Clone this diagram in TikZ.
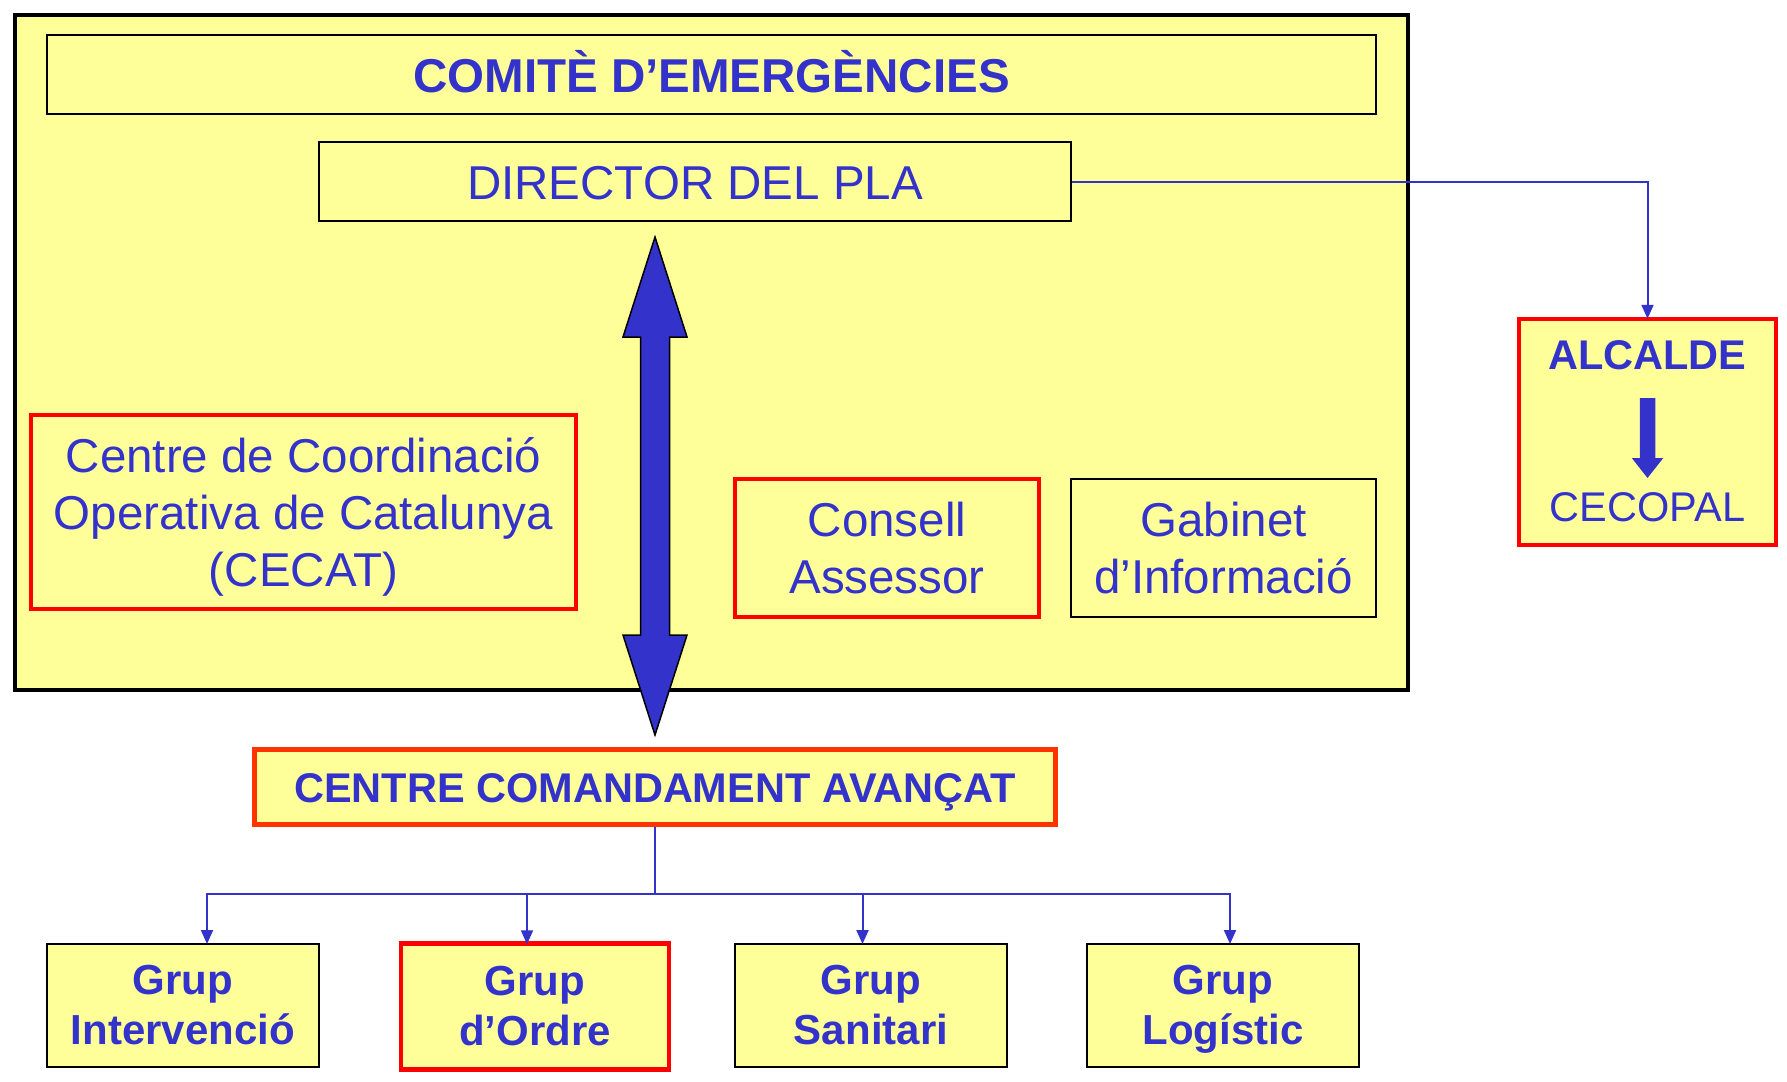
\documentclass[tikz,border=0pt]{standalone}
\usepackage{fontspec}
\setmainfont{Liberation Sans}
\usetikzlibrary{arrows.meta}
\definecolor{tblue}{HTML}{3333CC}
\definecolor{fillY}{HTML}{FFFF99}
\definecolor{cred}{HTML}{FF0000}
\definecolor{corange}{HTML}{FF3300}
\begin{document}
\begin{tikzpicture}[x=1pt,y=-1pt,
  box/.style={draw=black, line width=2pt, fill=fillY, text=tblue, align=center, inner sep=0pt},
  redbox/.style={box, draw=cred, line width=4.5pt},
  regtxt/.style={font=\fontsize{47.5}{57}\selectfont},
  boldtxt/.style={font=\fontsize{47.5}{57}\selectfont\bfseries},
  smalltxt/.style={font=\fontsize{41.5}{50}\selectfont},
  smallbold/.style={font=\fontsize{41.5}{50}\selectfont\bfseries},
  grptxt/.style={font=\fontsize{42}{50}\selectfont\bfseries},
  conn/.style={draw=tblue, line width=2pt, -{Triangle[length=14pt,width=12pt]}},
  plainconn/.style={draw=tblue, line width=2pt}
]
\useasboundingbox (0,0) rectangle (1787,1081);
\fill[white] (0,0) rectangle (1787,1081);

% outer committee frame
\node[box, line width=4pt, minimum width=1393pt, minimum height=675pt] (frame) at (711.5,352.5) {};

\node[box, boldtxt, text height=40pt, text depth=4.6pt, minimum width=1329pt, minimum height=79pt] (comite) at (711.5,74.5) {COMITÈ D’EMERGÈNCIES};
\node[box, regtxt, text height=36pt, text depth=0pt, minimum width=752pt, minimum height=79pt] (director) at (695,181.5) {DIRECTOR DEL PLA};
\node[redbox, minimum width=545pt, minimum height=194pt] (cecat) at (303.5,512) {};
\node[text=tblue, regtxt, align=center, inner sep=0pt] (cecattxt) at (303.5,516.5) {Centre de Coordinació\\Operativa de Catalunya\\(CECAT)};
\node[redbox, regtxt, minimum width=304pt, minimum height=138pt] (consell) at (887,548) {Consell\\Assessor};
\node[box, regtxt, minimum width=305pt, minimum height=138pt] (gabinet) at (1223.5,548) {Gabinet\\d’Informació};

% alcalde
\node[redbox, minimum width=257pt, minimum height=226pt] (alcalde) at (1647.5,432) {};
\node[text=tblue, smallbold] (alcaldetxt) at (1647.5,355) {ALCALDE};
\node[text=tblue, smalltxt] (cecopal) at (1647.5,507) {CECOPAL};
\fill[tblue] (1639.75,398) -- (1655.25,398) -- (1655.25,458) -- (1663.25,458) -- (1647.5,478) -- (1631.75,458) -- (1639.75,458) -- cycle;

% centre comandament avancat
\node[box, draw=corange, line width=5pt, smallbold, text height=36pt, text depth=5.2pt, minimum width=801pt, minimum height=75pt] (cca) at (655,787) {CENTRE COMANDAMENT AVANÇAT};

% groups
\node[box, grptxt, minimum width=272pt, minimum height=123pt] (g1) at (183,1005.5) {Grup\\Intervenció};
\node[redbox, grptxt, minimum width=268pt, minimum height=126pt] (g2) at (535,1006.5) {Grup\\d’Ordre};
\node[box, grptxt, minimum width=272pt, minimum height=123pt] (g3) at (871,1005.5) {Grup\\Sanitari};
\node[box, grptxt, minimum width=272pt, minimum height=123pt] (g4) at (1223,1005.5) {Grup\\Lo\smash{g}ístic};

% double arrow between director and CCA
\filldraw[fill=tblue, draw=black, line width=1.5pt, line join=miter]
  (655,237) -- (687,337) -- (669.5,337) -- (669.5,635) -- (687,635) -- (655,735)
  -- (623,635) -- (640.5,635) -- (640.5,337) -- (623,337) -- cycle;

% director -> alcalde
\draw[conn] (director.east) -- (director.east -| alcalde.north) -- ([yshift=-2pt]alcalde.north);

% tree
\coordinate (hub) at (655,894);
\draw[plainconn] (cca.south) -- (hub);
\draw[conn] (hub) -| ([xshift=24pt,yshift=-1pt]g1.north);
\draw[conn] (hub) -| ([xshift=-8pt,yshift=-3pt]g2.north);
\draw[conn] (hub) -| ([xshift=-8.5pt,yshift=-1pt]g3.north);
\draw[conn] (hub) -| ([xshift=7pt,yshift=-1pt]g4.north);
\end{tikzpicture}
\end{document}
